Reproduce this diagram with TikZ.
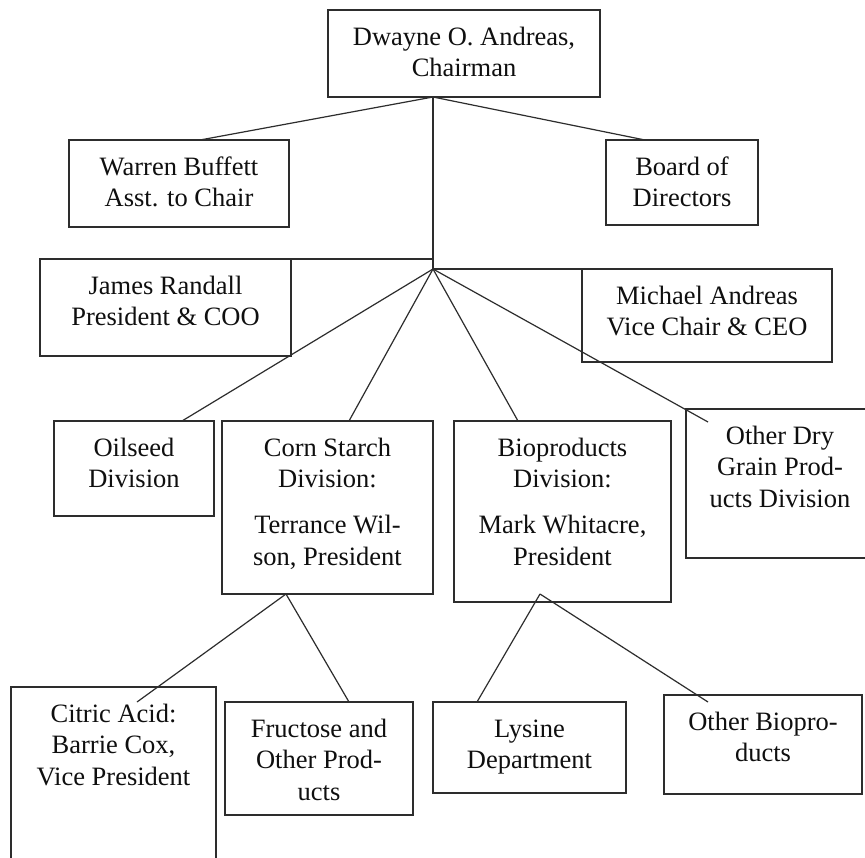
\documentclass[tikz,border=0pt]{standalone}
\usepackage{fontspec}
\setmainfont{Liberation Serif}
\usetikzlibrary{calc}
\definecolor{linec}{RGB}{45,45,45}
\definecolor{textc}{RGB}{15,15,15}
\newcommand\orgbox[6]{%
  \node[obox, minimum width={#4-#2}, minimum height={#5-#3},
    label={[lbl]north:{\rule{0pt}{20pt}#6}}] (#1) at ({(#2+#4)/2},{(#3+#5)/2}) {};}
\begin{document}
\begin{tikzpicture}[x=1pt,y=-1pt,
  obox/.style={draw=linec, line width=1.3pt, rectangle, inner sep=0pt, outer sep=0pt},
  lbl/.style={anchor=north, inner sep=0pt, outer sep=0pt, yshift=-15pt, align=center,
    text=textc, font=\fontsize{26.5}{31.8}\selectfont},
  conn/.style={draw=linec, line width=1.2pt}]
\useasboundingbox (0,0) rectangle (865,857);
\clip (0,0) rectangle (865,857);
\fill[white] (0,0) rectangle (865,857);

\orgbox{dwayne}{328}{10}{600}{97}{Dwayne O. Andreas,\\Chairman}
\orgbox{warren}{69}{140}{289}{227}{Warren Buffett\\Asst. to Chair}
\orgbox{board}{606}{140}{758}{225}{Board of\\Directors}
\orgbox{james}{40}{259}{291}{356}{James Randall\\President \& COO}
\orgbox{michael}{582}{269}{832}{362}{Michael Andreas\\Vice Chair \& CEO}
\orgbox{oilseed}{54}{421}{214}{516}{Oilseed\\Division}
\orgbox{corn}{222}{421}{433}{594}{Corn Starch\\Division:\\[14pt]Terrance Wil-\\son, President}
\orgbox{bio}{454}{421}{671}{602}{Bioproducts\\Division:\\[14pt]Mark Whitacre,\\President}
\orgbox{otherdry}{686}{409}{874}{558}{Other Dry\\Grain Prod-\\ucts Division}
\orgbox{citric}{11}{687}{216}{880}{Citric Acid:\\Barrie Cox,\\Vice President}
\orgbox{fructose}{225}{702}{413}{815}{Fructose and\\Other Prod-\\ucts}
\orgbox{lysine}{433}{702}{626}{793}{Lysine\\Department}
\orgbox{otherbio}{664}{695}{862}{794}{Other Biopro-\\ducts}

\coordinate (J) at (433,269);

\draw[conn] (dwayne.south -| J) -- (J);
\draw[conn] (dwayne.south -| J) -- ($(warren.north west)+(131,0)$);
\draw[conn] (dwayne.south -| J) -- ($(board.north west)+(39,0)$);
\draw[conn] (james.north -| J) -- ($(james.north west)+(177,0)$);
\draw[conn] (J) -- ($(michael.north west)+(125,0)$);
\draw[conn] (J) -- ($(oilseed.north west)+(128,0)$);
\draw[conn] (J) -- ($(corn.north west)+(127,0)$);
\draw[conn] (J) -- ($(bio.north west)+(64,0)$);
\draw[conn] (J) -- ($(otherdry.north west)+(22,13)$);
\draw[conn] ($(corn.south west)+(64,0)$) -- ($(citric.north west)+(126,15)$);
\draw[conn] ($(corn.south west)+(64,0)$) -- ($(fructose.north west)+(124,0)$);
\draw[conn] ($(bio.south west)+(86,-8)$) -- ($(lysine.north west)+(44,0)$);
\draw[conn] ($(bio.south west)+(86,-8)$) -- ($(otherbio.north west)+(44,7)$);
\end{tikzpicture}
\end{document}
